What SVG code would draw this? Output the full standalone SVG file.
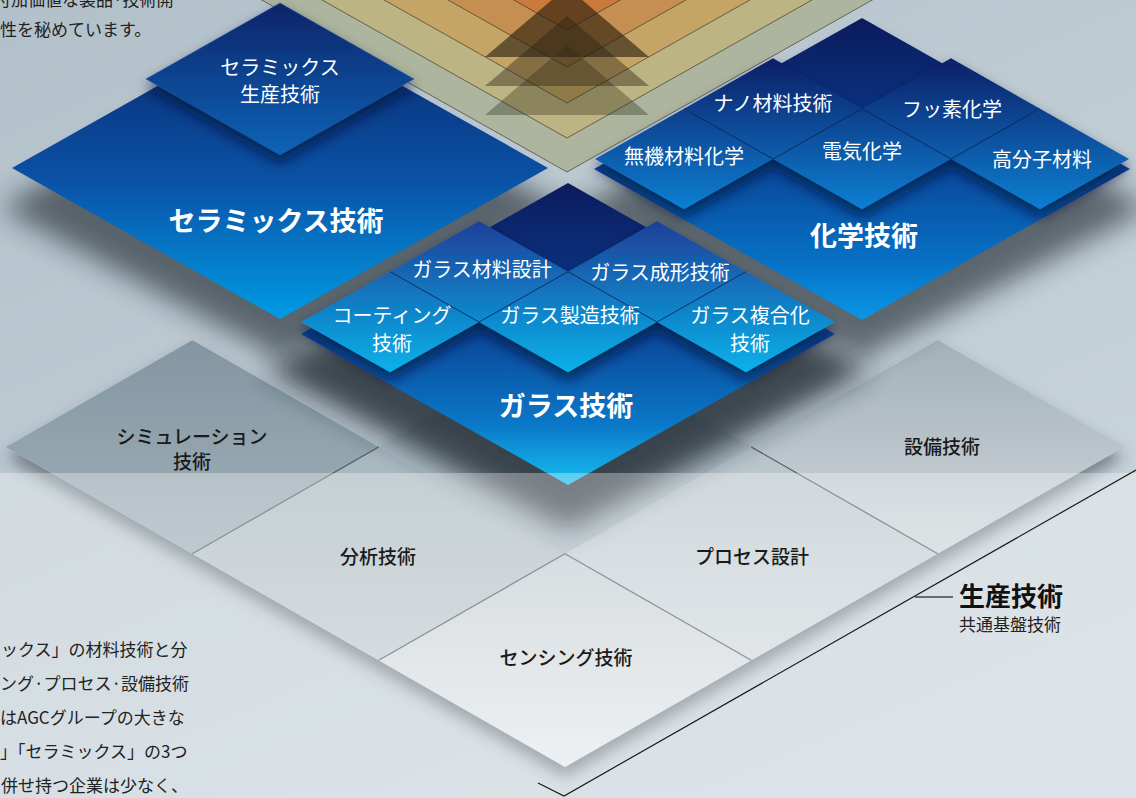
<svg xmlns="http://www.w3.org/2000/svg" width="1136" height="798" viewBox="0 0 1136 798">
<defs>
<style>
.t{font-family:'Noto Sans CJK JP','Noto Sans',sans-serif;text-anchor:middle}
.w{fill:#fff;font-size:20px}
.wb{fill:#fff;font-size:27px;font-weight:700}
.k{fill:#1a1a1a;font-size:19px;font-weight:500}
.body{font-family:'Noto Sans CJK JP','Noto Sans',sans-serif;font-size:17px;fill:#222}
.sep{stroke:#0b2350;stroke-width:1;fill:none;opacity:.8}
.pl{stroke:#2b2a20;stroke-width:.8;stroke-opacity:.75}
.gl{stroke:#555d63;stroke-width:1.3;fill:none}
.sh{fill:#1e262e;filter:url(#blur)}
</style>
<linearGradient id="bg" x1="0" y1="0" x2="0.6" y2="1"><stop offset="0" stop-color="#b2c0c9"/><stop offset="1" stop-color="#cbd6dd"/></linearGradient>
<linearGradient id="gSim" x1="0" y1="0" x2="0" y2="1"><stop offset="0" stop-color="#8396a1"/><stop offset="1" stop-color="#a0b0b9"/></linearGradient>
<linearGradient id="gAna" x1="0" y1="0" x2="0" y2="1"><stop offset="0" stop-color="#a7b6be"/><stop offset="1" stop-color="#c2cbd0"/></linearGradient>
<linearGradient id="gSen" x1="0" y1="0" x2="0" y2="1"><stop offset="0" stop-color="#c4cdd2"/><stop offset="1" stop-color="#e6eaec"/></linearGradient>
<linearGradient id="gPro" x1="0" y1="0" x2="0" y2="1"><stop offset="0" stop-color="#b7c3ca"/><stop offset="1" stop-color="#d3dade"/></linearGradient>
<linearGradient id="gEq" x1="0" y1="0" x2="0" y2="1"><stop offset="0" stop-color="#a3b1b9"/><stop offset="1" stop-color="#cfd6da"/></linearGradient>
<linearGradient id="gBase" gradientUnits="userSpaceOnUse" x1="0" y1="17" x2="0" y2="319"><stop offset="0" stop-color="#0b2466"/><stop offset=".55" stop-color="#0a53a8"/><stop offset="1" stop-color="#009be4"/></linearGradient>
<linearGradient id="gCerT" gradientUnits="userSpaceOnUse" x1="0" y1="3" x2="0" y2="155"><stop offset="0" stop-color="#0a2468"/><stop offset="1" stop-color="#0a64b8"/></linearGradient>
<linearGradient id="gChem" gradientUnits="userSpaceOnUse" x1="0" y1="18" x2="0" y2="320"><stop offset="0" stop-color="#0c1a5c"/><stop offset=".4" stop-color="#0a3a8c"/><stop offset=".8" stop-color="#0670c4"/><stop offset="1" stop-color="#0a96e6"/></linearGradient>
<linearGradient id="gChemT" gradientUnits="userSpaceOnUse" x1="0" y1="58" x2="0" y2="209"><stop offset="0" stop-color="#0d1e66"/><stop offset="1" stop-color="#0a7fd2"/></linearGradient>
<linearGradient id="gGlass" gradientUnits="userSpaceOnUse" x1="0" y1="183" x2="0" y2="485"><stop offset="0" stop-color="#0c1a5c"/><stop offset=".45" stop-color="#0a3f92"/><stop offset=".8" stop-color="#0a78c8"/><stop offset="1" stop-color="#16bff0"/></linearGradient>
<linearGradient id="gGlassT" gradientUnits="userSpaceOnUse" x1="0" y1="221" x2="0" y2="372"><stop offset="0" stop-color="#1f3f98"/><stop offset="1" stop-color="#06b2ea"/></linearGradient>
<filter id="blur" x="-30%" y="-30%" width="160%" height="160%"><feGaussianBlur stdDeviation="14"/></filter>
<filter id="ds" x="-10%" y="-10%" width="120%" height="130%"><feDropShadow dx="0" dy="10" stdDeviation="8" flood-color="#2e3a44" flood-opacity=".55"/></filter>
<filter id="ts" x="-20%" y="-20%" width="140%" height="150%"><feDropShadow dx="0" dy="8" stdDeviation="7" flood-color="#000c30" flood-opacity=".7"/></filter>
</defs>

<rect width="1136" height="798" fill="url(#bg)"/>

<g id="platform">
  <polygon points="6,447 192.3,340.3 378.7,447 565,340.3 751.3,447 937.7,340.3 1124,447 565,767" fill="#aebcc4" filter="url(#ds)"/>
  <polygon id="tile-simulation" points="192.3,340.3 378.7,447 192.3,553.7 6,447" fill="url(#gSim)"/>
  <polygon id="tile-analysis" points="378.7,447 565,553.7 378.7,660.3 192.3,553.7" fill="url(#gAna)"/>
  <polygon id="tile-sensing" points="565,553.7 751.3,660.3 565,767 378.7,660.3" fill="url(#gSen)"/>
  <polygon id="tile-process" points="751.3,447 937.7,553.7 751.3,660.3 565,553.7" fill="url(#gPro)"/>
  <polygon id="tile-equipment" points="937.7,340.3 1124,447 937.7,553.7 751.3,447" fill="url(#gEq)"/>
  <line class="gl" x1="378.7" y1="447" x2="192.3" y2="553.7"/>
  <line class="gl" x1="565" y1="553.7" x2="378.7" y2="660.3"/>
  <line class="gl" x1="565" y1="553.7" x2="751.3" y2="660.3"/>
  <line class="gl" x1="751.3" y1="447" x2="937.7" y2="553.7"/>
</g>

<g id="pyramid">
  <polygon class="pl" points="173,-50 567,172 961,-50" fill="#adb59e"/>
  <polygon class="pl" points="233.3,-50 567,138 900.7,-50" fill="#bdb483"/>
  <polygon class="pl" points="295.4,-50 567,103 838.6,-50" fill="#c4a566"/>
  <polygon class="pl" points="359.3,-50 567,67 774.7,-50" fill="#c68f52"/>
  <polygon class="pl" points="425,-50 567,30 709,-50" fill="#c97a3c"/>
  <polygon points="567,-13 649,57 485,57" fill="#241a0c" fill-opacity=".6"/>
  <polygon points="567,16 649,86 485,86" fill="#2a2212" fill-opacity=".42"/>
  <polygon points="567,45 649,115 485,115" fill="#2e2a18" fill-opacity=".35"/>
</g>

<g id="shadows">
  <polygon class="sh" points="280,45 560,208 280,358 0,208" opacity=".62"/>
  <polygon class="sh" points="862,45 1150,208 862,358 580,208" opacity=".62"/>
  <polygon class="sh" points="568,205 870,370 568,530 266,370" opacity=".8"/>
</g>

<g id="ceramics">
  <polygon points="280,17 548,168 280,319 12,168" fill="url(#gBase)"/>
  <polygon points="280,3 414,79 280,155 146,79" fill="url(#gCerT)" filter="url(#ts)" stroke="#2a5aa8" stroke-opacity=".5" stroke-width="1"/>
</g>

<g id="chemistry">
  <polygon points="862,18 1130,169 862,320 594,169" fill="url(#gChem)"/>
  <g filter="url(#ts)" fill="url(#gChemT)">
    <polygon points="773,58.3 862,108.7 773,159 684,108.7"/>
    <polygon points="951,58.3 1040,108.7 951,159 862,108.7"/>
    <polygon points="684,108.7 773,159 684,209.3 595,159"/>
    <polygon points="862,108.7 951,159 862,209.3 773,159"/>
    <polygon points="1040,108.7 1129,159 1040,209.3 951,159"/>
  </g>
  <polyline class="sep" points="684,108.7 773,159 862,108.7 951,159 1040,108.7"/>
</g>

<g id="glass">
  <polygon points="568,183 835,334 568,485 301,334" fill="url(#gGlass)"/>
  <g filter="url(#ts)" fill="url(#gGlassT)">
    <polygon points="479,221.3 568,271.7 479,322 390,271.7"/>
    <polygon points="657,221.3 746,271.7 657,322 568,271.7"/>
    <polygon points="390,271.7 479,322 390,372.3 301,322"/>
    <polygon points="568,271.7 657,322 568,372.3 479,322"/>
    <polygon points="746,271.7 835,322 746,372.3 657,322"/>
  </g>
  <polyline class="sep" points="390,271.7 479,322 568,271.7 657,322 746,271.7"/>
</g>

<rect x="0" y="473" width="1136" height="325" fill="#ffffff" fill-opacity=".32"/>

<g id="connectors">
  <polyline points="538,783 564,796 1136,470" fill="none" stroke="#1a1a1a" stroke-width="1.2"/>
  <line x1="915" y1="597" x2="953" y2="597" stroke="#444" stroke-width="1.5"/>
</g>

<g id="labels-ceramics">
  <text class="t w" x="280" y="75">セラミックス</text>
  <text class="t w" x="280" y="102">生産技術</text>
  <text class="t wb" x="276" y="231">セラミックス技術</text>
</g>
<g id="labels-chemistry">
  <text class="t w" x="773" y="111">ナノ材料技術</text>
  <text class="t w" x="952" y="117">フッ素化学</text>
  <text class="t w" x="684" y="164">無機材料化学</text>
  <text class="t w" x="862" y="159">電気化学</text>
  <text class="t w" x="1042" y="167">高分子材料</text>
  <text class="t wb" x="864" y="246">化学技術</text>
</g>
<g id="labels-glass">
  <text class="t w" x="482" y="277">ガラス材料設計</text>
  <text class="t w" x="660" y="280">ガラス成形技術</text>
  <text class="t w" x="392" y="323">コーティング</text>
  <text class="t w" x="392" y="351">技術</text>
  <text class="t w" x="570" y="323">ガラス製造技術</text>
  <text class="t w" x="750" y="323">ガラス複合化</text>
  <text class="t w" x="750" y="351">技術</text>
  <text class="t wb" x="566" y="416">ガラス技術</text>
</g>
<g id="labels-platform">
  <text class="t k" x="192" y="444">シミュレーション</text>
  <text class="t k" x="192" y="469">技術</text>
  <text class="t k" x="378" y="564">分析技術</text>
  <text class="t k" x="752" y="564">プロセス設計</text>
  <text class="t k" x="566" y="665">センシング技術</text>
  <text class="t k" x="942" y="454">設備技術</text>
</g>
<g id="label-production">
  <text x="959" y="606" font-family="'Noto Sans CJK JP','Noto Sans',sans-serif" font-size="26" font-weight="700" fill="#111">生産技術</text>
  <text x="959" y="631" font-family="'Noto Sans CJK JP','Noto Sans',sans-serif" font-size="17" fill="#222">共通基盤技術</text>
</g>
<g id="body-text">
  <text class="body" x="-6" y="6" font-size="16">付加価値な製品·技術開</text>
  <text class="body" x="0" y="36" font-size="16">性を秘めています。</text>
  <text class="body" x="1" y="656">ックス」の材料技術と分</text>
  <text class="body" x="0" y="690">ング·プロセス·設備技術</text>
  <text class="body" x="0" y="724">はAGCグループの大きな</text>
  <text class="body" x="0" y="758">」「セラミックス」の3つ</text>
  <text class="body" x="1" y="792">併せ持つ企業は少なく、</text>
</g>
</svg>
